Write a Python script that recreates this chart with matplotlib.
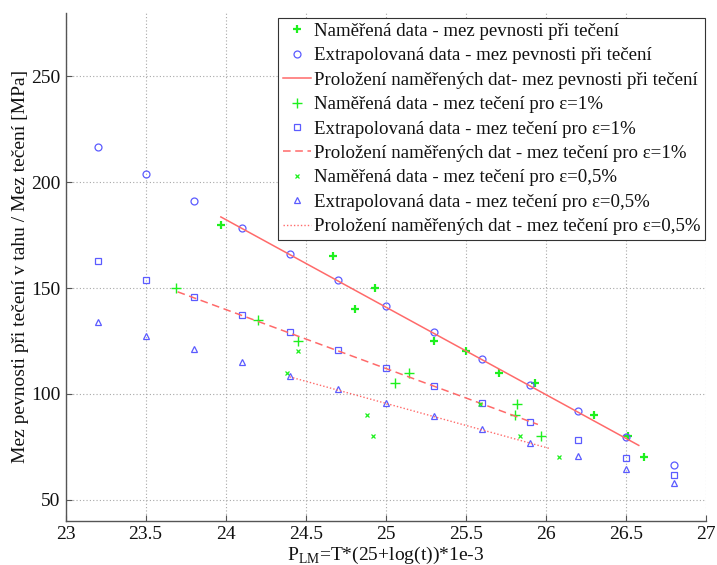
import matplotlib
matplotlib.use("Agg")
import matplotlib.pyplot as plt

plt.rcParams['font.family'] = ['Liberation Serif', 'DejaVu Serif']
plt.rcParams['mathtext.fontset'] = 'custom'
plt.rcParams['mathtext.rm'] = 'Liberation Serif'

# Creep rupture strength (mez pevnosti při tečení)
meas_r_x = [23.97, 24.67, 24.93, 24.81, 25.30, 25.50, 25.71, 25.93, 26.30, 26.51, 26.61]
meas_r_y = [180, 165, 150, 140, 125, 120, 110, 105, 90, 80, 70]
extr_x = [23.2, 23.5, 23.8, 24.1, 24.4, 24.7, 25.0, 25.3, 25.6, 25.9, 26.2, 26.5, 26.8]
extr_r_y = [216.5, 203.7, 191.0, 178.6, 166.2, 153.8, 141.4, 129.0, 116.6, 104.1, 91.7, 79.4, 66.5]
fit_r_x = [23.97, 26.58]
fit_r_y = [183.6, 75.6]

# Yield 1 %
meas_1_x = [23.69, 24.20, 24.45, 25.06, 25.145, 25.82, 25.81, 25.97]
meas_1_y = [150, 135, 125, 105, 110, 95, 90, 80]
extr_1_y = [162.7, 154.0, 145.8, 137.2, 129.0, 120.5, 112.0, 103.6, 95.5, 86.8, 78.3, 69.8, 61.6]
fit_1_x = [23.70, 25.95]
fit_1_y = [148.2, 85.5]

# Yield 0.5 %
meas_05_x = [24.45, 24.38, 24.885, 24.92, 25.59, 25.84, 26.08]
meas_05_y = [120, 110, 90, 80, 95, 80, 70]
extr_05_y = [134.0, 127.4, 121.1, 115.1, 108.5, 102.4, 95.8, 89.6, 83.5, 76.9, 70.6, 64.4, 57.7]
fit_05_x = [24.40, 26.02]
fit_05_y = [108.0, 74.2]

labels = [
    "Naměřená data - mez pevnosti při tečení",
    "Extrapolovaná data - mez pevnosti při tečení",
    "Proložení naměřených dat- mez pevnosti při tečení",
    "Naměřená data - mez tečení pro ε=1%",
    "Extrapolovaná data - mez tečení pro ε=1%",
    "Proložení naměřených dat - mez tečení pro ε=1%",
    "Naměřená data - mez tečení pro ε=0,5%",
    "Extrapolovaná data - mez tečení pro ε=0,5%",
    "Proložení naměřených dat - mez tečení pro ε=0,5%",
]

green = '#1ef01e'
blue = '#5b5bff'
red = '#ff6a6a'

fig = plt.figure(figsize=(7.17, 5.65), dpi=100)
ax = fig.add_axes([0.0914, 0.0784, 0.8933, 0.8986])

ax.plot(meas_r_x, meas_r_y, ls='none', marker='+', ms=6, mew=1.6, color=green, label=labels[0])
ax.plot(extr_x, extr_r_y, ls='none', marker='o', ms=5, mew=0.9, mfc='none', mec=blue, label=labels[1])
ax.plot(fit_r_x, fit_r_y, ls='-', lw=1.1, color=red, label=labels[2])
ax.plot(meas_1_x, meas_1_y, ls='none', marker='+', ms=7, mew=1.0, color=green, label=labels[3])
ax.plot(extr_x, extr_1_y, ls='none', marker='s', ms=5, mew=0.9, mfc='none', mec=blue, label=labels[4])
ax.plot(fit_1_x, fit_1_y, ls=(0, (5, 3)), lw=1.1, color=red, label=labels[5])
ax.plot(meas_05_x, meas_05_y, ls='none', marker='x', ms=3.5, mew=0.9, color=green, label=labels[6])
ax.plot(extr_x, extr_05_y, ls='none', marker='^', ms=5, mew=0.9, mfc='none', mec=blue, label=labels[7])
ax.plot(fit_05_x, fit_05_y, ls=(0, (1, 1.5)), lw=1.0, color=red, label=labels[8])

ax.set_xlim(23, 27)
ax.set_ylim(40, 280)
ax.set_xticks([23, 23.5, 24, 24.5, 25, 25.5, 26, 26.5, 27])
ax.set_xticklabels(['23', '23.5', '24', '24.5', '25', '25.5', '26', '26.5', '27'])
ax.set_yticks([50, 100, 150, 200, 250])

ax.grid(True, ls=(0, (1, 2)), lw=0.8, color='#a8a8a8')
for s in ['top', 'right']:
    ax.spines[s].set_visible(False)
for s in ['left', 'bottom']:
    ax.spines[s].set_color('#555555')
    ax.spines[s].set_linewidth(1.0)
ax.tick_params(direction='in', length=4, color='#555555', labelsize=14, labelcolor='#111111')

ax.set_xlabel(r'P$_{\mathrm{LM}}$=T*(25+log(t))*1e-3', fontsize=14, color='#111111', labelpad=2)
ax.set_ylabel('Mez pevnosti při tečení v tahu / Mez tečení [MPa]', fontsize=14, color='#111111', labelpad=2)

leg = ax.legend(loc='upper right', bbox_to_anchor=(0.999, 0.99), fontsize=13.6, frameon=True,
                fancybox=False, framealpha=1, edgecolor='#333333', borderpad=0.25,
                labelspacing=0.38, handlelength=1.5, handletextpad=0.15, borderaxespad=0.0)
leg.get_frame().set_linewidth(0.8)
for t in leg.get_texts():
    t.set_color('#111111')

fig.savefig('out.png', dpi=100)
